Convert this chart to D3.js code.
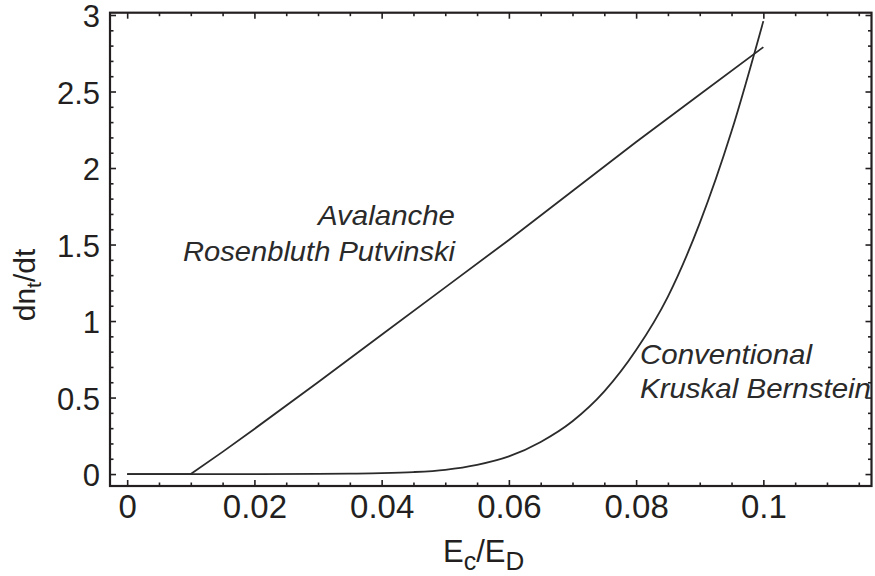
<!DOCTYPE html>
<html>
<head>
<meta charset="utf-8">
<script src="https://cdn.jsdelivr.net/npm/d3@7"></script>
<style>
  html, body { margin: 0; padding: 0; background: #fff; }
  svg { display: block; font-family: "Liberation Sans", Arial, Helvetica, sans-serif; }
</style>
</head>
<body>
<svg id="chart" width="875" height="576"></svg>
<script>
// Runaway electron generation rate versus normalised field
const avalancheX = [0, 0.005, 0.01, 0.015, 0.02, 0.03, 0.04, 0.05, 0.06, 0.07, 0.08, 0.09, 0.1];
const avalancheY = [0, 0, 0, 0.145, 0.295, 0.60, 0.91, 1.22, 1.53, 1.85, 2.17, 2.48, 2.79];

const conventionalX = [0, 0.01, 0.02, 0.03, 0.035, 0.04, 0.045, 0.05, 0.055, 0.06, 0.065, 0.07, 0.075, 0.08, 0.085, 0.09, 0.095, 0.1];
const conventionalY = [0, 0, 0, 0.001, 0.003, 0.006, 0.013, 0.028, 0.06, 0.115, 0.21, 0.345, 0.54, 0.81, 1.16, 1.64, 2.24, 2.96];

const xTickValues = [0, 0.02, 0.04, 0.06, 0.08, 0.1];
const xTickLabels = ["0", "0.02", "0.04", "0.06", "0.08", "0.1"];
const yTickValues = [0, 0.5, 1, 1.5, 2, 2.5, 3];
const yTickLabels = ["0", "0.5", "1", "1.5", "2", "2.5", "3"];

const xDomain = [-0.0027, 0.117];
const yDomain = [-0.078, 3.015];

const frame = { left: 110, right: 871.5, top: 12.7, bottom: 486 };
const ink = "#231f20";
const lineInk = "#2b2b2b";

const svg = d3.select("#chart");

const x = d3.scaleLinear().domain(xDomain).range([frame.left, frame.right]);
const y = d3.scaleLinear().domain(yDomain).range([frame.bottom, frame.top]);

// minor tick positions
const xMinor = d3.range(0, 24).map(i => +(i * 0.005).toFixed(3)).filter(v => v <= xDomain[1] && !xTickValues.includes(v));
const yMinor = d3.range(0, 31).map(i => +(i * 0.1).toFixed(1)).filter(v => v <= yDomain[1] && !yTickValues.includes(v));

const majorLen = 6, minorLen = 3.5;

function styleAxis(g) {
  g.select(".domain").remove();
  g.selectAll(".tick line").attr("stroke", ink).attr("stroke-width", 1.6);
  g.selectAll(".tick text").attr("fill", ink);
}

// bottom axis with labels
svg.append("g")
  .attr("transform", `translate(0,${frame.bottom})`)
  .call(d3.axisBottom(x).tickValues(xTickValues).tickSize(-majorLen).tickPadding(8.5)
    .tickFormat((d, i) => xTickLabels[i]))
  .call(styleAxis)
  .call(g => g.selectAll(".tick text").attr("font-size", 33).attr("y", 8.5).attr("dy", "0.71em"));
svg.append("g")
  .attr("transform", `translate(0,${frame.bottom})`)
  .call(d3.axisBottom(x).tickValues(xMinor).tickSize(-minorLen).tickFormat(""))
  .call(styleAxis);

// top axis (ticks only)
svg.append("g")
  .attr("transform", `translate(0,${frame.top})`)
  .call(d3.axisTop(x).tickValues(xTickValues).tickSize(-majorLen).tickFormat(""))
  .call(styleAxis);
svg.append("g")
  .attr("transform", `translate(0,${frame.top})`)
  .call(d3.axisTop(x).tickValues(xMinor).tickSize(-minorLen).tickFormat(""))
  .call(styleAxis);

// left axis with labels
svg.append("g")
  .attr("transform", `translate(${frame.left},0)`)
  .call(d3.axisLeft(y).tickValues(yTickValues).tickSize(-majorLen).tickPadding(10)
    .tickFormat((d, i) => yTickLabels[i]))
  .call(styleAxis)
  .call(g => g.selectAll(".tick text").attr("font-size", 31).attr("x", -10).attr("dy", 11.5));
svg.append("g")
  .attr("transform", `translate(${frame.left},0)`)
  .call(d3.axisLeft(y).tickValues(yMinor).tickSize(-minorLen).tickFormat(""))
  .call(styleAxis);

// right axis (ticks only)
svg.append("g")
  .attr("transform", `translate(${frame.right},0)`)
  .call(d3.axisRight(y).tickValues(yTickValues).tickSize(-majorLen).tickFormat(""))
  .call(styleAxis);
svg.append("g")
  .attr("transform", `translate(${frame.right},0)`)
  .call(d3.axisRight(y).tickValues(yMinor).tickSize(-minorLen).tickFormat(""))
  .call(styleAxis);

// frame
svg.append("rect")
  .attr("x", frame.left).attr("y", frame.top)
  .attr("width", frame.right - frame.left).attr("height", frame.bottom - frame.top)
  .attr("fill", "none").attr("stroke", ink).attr("stroke-width", 2.2);

// curves
const smooth = d3.line().x(d => x(d[0])).y(d => y(d[1])).curve(d3.curveMonotoneX);
const straight = d3.line().x(d => x(d[0])).y(d => y(d[1]));

svg.append("path")
  .datum(conventionalX.map((v, i) => [v, conventionalY[i]]))
  .attr("d", smooth)
  .attr("fill", "none").attr("stroke", lineInk).attr("stroke-width", 1.8);

svg.append("path")
  .datum(avalancheX.map((v, i) => [v, avalancheY[i]]))
  .attr("d", straight)
  .attr("fill", "none").attr("stroke", lineInk).attr("stroke-width", 1.8)
  .attr("stroke-linejoin", "round");

// curve annotations
const notes = [
  { text: "Avalanche", x: 455, y: 225, anchor: "end", len: 137 },
  { text: "Rosenbluth Putvinski", x: 455, y: 261, anchor: "end", len: 272 },
  { text: "Conventional", x: 640, y: 364, anchor: "start", len: 172 },
  { text: "Kruskal Bernstein", x: 640, y: 398, anchor: "start", len: 231 }
];
svg.append("g").selectAll("text")
  .data(notes)
  .join("text")
  .attr("x", d => d.x).attr("y", d => d.y)
  .attr("text-anchor", d => d.anchor)
  .attr("font-size", 28)
  .attr("font-style", "italic")
  .attr("fill", "#2a2a2a")
  .attr("textLength", d => d.len)
  .attr("lengthAdjust", "spacingAndGlyphs")
  .text(d => d.text);

// axis titles
const xTitle = svg.append("text")
  .attr("x", 443).attr("y", 562)
  .attr("font-size", 31).attr("fill", ink);
xTitle.append("tspan").text("E");
xTitle.append("tspan").attr("font-size", 25).attr("dy", 8).text("c");
xTitle.append("tspan").attr("dy", -8).text("/E");
xTitle.append("tspan").attr("font-size", 26).attr("dy", 8).text("D");

const yTitle = svg.append("text")
  .attr("transform", "translate(35,285) rotate(-90)")
  .attr("text-anchor", "middle")
  .attr("font-size", 30).attr("fill", ink);
yTitle.append("tspan").text("dn");
yTitle.append("tspan").attr("font-size", 21).attr("dy", 6).text("t");
yTitle.append("tspan").attr("dy", -6).text("/dt");
</script>
</body>
</html>
